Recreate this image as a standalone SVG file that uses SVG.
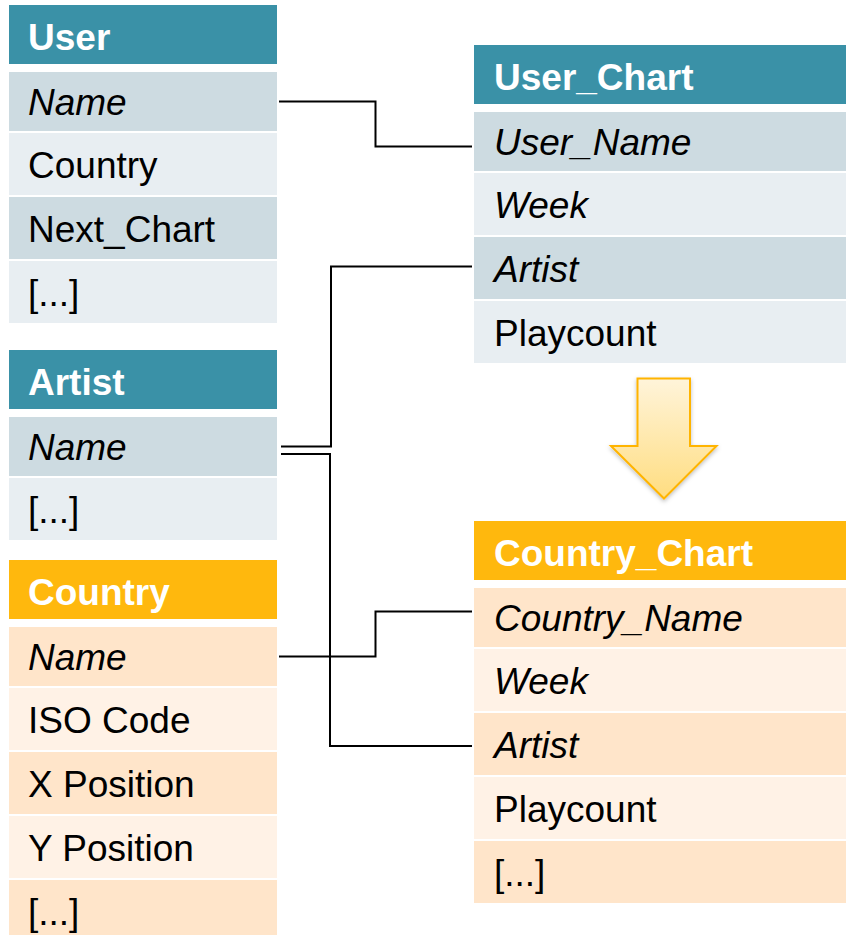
<svg xmlns="http://www.w3.org/2000/svg" width="846" height="935" viewBox="0 0 846 935">
  <style>
    text { font-family: "Liberation Sans", Arial, sans-serif; font-size: 37px; fill: #000; }
    .hd { font-weight: bold; fill: #fff; }
    .key { font-style: italic; }
    .th { fill: #3A91A7; }
    .td { fill: #CDDBE1; }
    .tl { fill: #E8EEF2; }
    .oh { fill: #FFB80D; }
    .od { fill: #FFE5CA; }
    .ol { fill: #FFF2E6; }
    .link { fill: none; stroke: #000; stroke-width: 2; }
  </style>
  <defs>
    <linearGradient id="arrowFill" x1="0" y1="0" x2="0" y2="1">
      <stop offset="0" stop-color="#FFF4DA"/>
      <stop offset="1" stop-color="#FFDD80"/>
    </linearGradient>
    <filter id="soft" x="-20%" y="-20%" width="140%" height="140%">
      <feDropShadow dx="0" dy="2" stdDeviation="2" flood-color="#000" flood-opacity="0.25"/>
    </filter>
  </defs>
  <rect width="846" height="935" fill="#fff"/>

  <!-- User table -->
  <g id="user">
    <rect class="th" x="9" y="5" width="268" height="59"/>
    <text class="hd" x="28" y="49.5">User</text>
    <rect class="td" x="9" y="72" width="268" height="59"/>
    <text class="key" x="28" y="115">Name</text>
    <rect class="tl" x="9" y="133" width="268" height="62"/>
    <text x="28" y="178">Country</text>
    <rect class="td" x="9" y="197" width="268" height="62"/>
    <text x="28" y="242">Next_Chart</text>
    <rect class="tl" x="9" y="261" width="268" height="62"/>
    <text x="28" y="306">[...]</text>
  </g>

  <!-- Artist table -->
  <g id="artist">
    <rect class="th" x="9" y="350" width="268" height="59"/>
    <text class="hd" x="28" y="394.5">Artist</text>
    <rect class="td" x="9" y="417" width="268" height="59"/>
    <text class="key" x="28" y="460">Name</text>
    <rect class="tl" x="9" y="478" width="268" height="62"/>
    <text x="28" y="523">[...]</text>
  </g>

  <!-- Country table -->
  <g id="country">
    <rect class="oh" x="9" y="560" width="268" height="59"/>
    <text class="hd" x="28" y="604.5">Country</text>
    <rect class="od" x="9" y="627" width="268" height="59"/>
    <text class="key" x="28" y="670">Name</text>
    <rect class="ol" x="9" y="688" width="268" height="62"/>
    <text x="28" y="733">ISO Code</text>
    <rect class="od" x="9" y="752" width="268" height="62"/>
    <text x="28" y="797">X Position</text>
    <rect class="ol" x="9" y="816" width="268" height="62"/>
    <text x="28" y="861">Y Position</text>
    <rect class="od" x="9" y="880" width="268" height="62"/>
    <text x="28" y="925">[...]</text>
  </g>

  <!-- User_Chart table -->
  <g id="user-chart">
    <rect class="th" x="474" y="45" width="372" height="59"/>
    <text class="hd" x="494" y="89.5">User_Chart</text>
    <rect class="td" x="474" y="112" width="372" height="59"/>
    <text class="key" x="494" y="155">User_Name</text>
    <rect class="tl" x="474" y="173" width="372" height="62"/>
    <text class="key" x="494" y="218">Week</text>
    <rect class="td" x="474" y="237" width="372" height="62"/>
    <text class="key" x="494" y="282">Artist</text>
    <rect class="tl" x="474" y="301" width="372" height="62"/>
    <text x="494" y="346">Playcount</text>
  </g>

  <!-- Country_Chart table -->
  <g id="country-chart">
    <rect class="oh" x="474" y="521" width="372" height="59"/>
    <text class="hd" x="494" y="565.5">Country_Chart</text>
    <rect class="od" x="474" y="588" width="372" height="59"/>
    <text class="key" x="494" y="631">Country_Name</text>
    <rect class="ol" x="474" y="649" width="372" height="62"/>
    <text class="key" x="494" y="694">Week</text>
    <rect class="od" x="474" y="713" width="372" height="62"/>
    <text class="key" x="494" y="758">Artist</text>
    <rect class="ol" x="474" y="777" width="372" height="62"/>
    <text x="494" y="822">Playcount</text>
    <rect class="od" x="474" y="841" width="372" height="62"/>
    <text x="494" y="886">[...]</text>
  </g>

  <!-- Aggregation arrow -->
  <g id="aggregate-arrow">
    <path d="M637.5 378.5 H690 V446 H716.5 L664 498.5 L611 446 H637.5 Z" fill="url(#arrowFill)" stroke="#FFB400" stroke-width="2" stroke-linejoin="miter" filter="url(#soft)"/>
  </g>

  <!-- Key references -->
  <g id="connectors">
    <polyline class="link" points="279,101.5 375.5,101.5 375.5,146.5 472,146.5"/>
    <polyline class="link" points="281,446.5 331,446.5 331,266.5 472,266.5"/>
    <polyline class="link" points="281,454 330,454 330,746 472,746"/>
    <polyline class="link" points="279,656.5 375.5,656.5 375.5,611.5 472,611.5"/>
  </g>
</svg>
